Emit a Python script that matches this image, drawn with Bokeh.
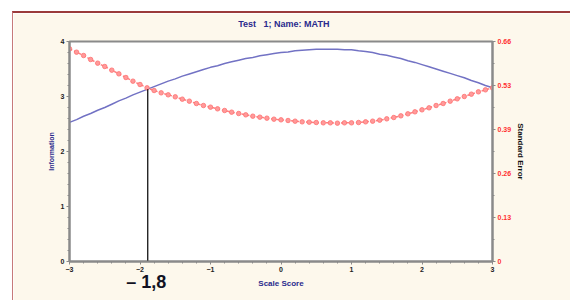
from bokeh.plotting import figure
from bokeh.models import Range1d, LinearAxis, FixedTicker
from bokeh.embed import file_html
from bokeh.resources import INLINE

# ---- data ----
theta = [round(-3.0 + 0.1 * i, 1) for i in range(61)]
information = [2.53, 2.58, 2.64, 2.69, 2.75, 2.80, 2.86, 2.92, 2.97, 3.03,
               3.08, 3.13, 3.18, 3.23, 3.28, 3.32, 3.37, 3.41, 3.45, 3.49,
               3.53, 3.56, 3.60, 3.63, 3.66, 3.69, 3.71, 3.74, 3.76, 3.78,
               3.80, 3.81, 3.83, 3.84, 3.85, 3.86, 3.86, 3.86, 3.86, 3.85,
               3.85, 3.83, 3.82, 3.80, 3.77, 3.75, 3.72, 3.69, 3.65, 3.62,
               3.58, 3.54, 3.50, 3.46, 3.42, 3.38, 3.34, 3.29, 3.25, 3.20,
               3.16]
std_error = [0.638, 0.628, 0.618, 0.606, 0.595, 0.585, 0.574, 0.563, 0.552, 0.541,
             0.531, 0.521, 0.513, 0.506, 0.500, 0.494, 0.487, 0.481, 0.474, 0.468,
             0.463, 0.458, 0.453, 0.448, 0.444, 0.440, 0.436, 0.433, 0.430, 0.427,
             0.425, 0.423, 0.421, 0.419, 0.418, 0.417, 0.416, 0.416, 0.415, 0.416,
             0.416, 0.417, 0.419, 0.421, 0.424, 0.428, 0.432, 0.437, 0.443, 0.449,
             0.455, 0.461, 0.468, 0.474, 0.481, 0.488, 0.495, 0.502, 0.509, 0.515,
             0.521]
x_ticks = [-3, -2, -1, 0, 1, 2, 3]
info_ticks = [0, 1, 2, 3, 4]
se_ticks = [0, 0.132, 0.264, 0.396, 0.528, 0.66]
se_tick_labels = ["0", "0.13", "0.26", "0.39", "0.53", "0.66"]
cut_x = -1.89
cut_top = 3.13
cut_label_x = -1.91
cut_label = "\u2013 1,8"
title_x = 0.04
title_text = "Test\u00a0\u00a0 1; Name: MATH"

FONT = "Liberation Sans"
NAVY = "#2a2a8c"
CREAM = "#fdf8ec"
GRAY = "#8a8a8a"

p = figure(frame_width=423, frame_height=220, output_backend="svg",
           toolbar_location=None,
           x_range=Range1d(-3, 3), y_range=Range1d(0, 4),
           min_border_left=56, min_border_right=78, min_border_top=28,
           min_border_bottom=39, border_fill_color=CREAM,
           background_fill_color="white", outline_line_color=GRAY,
           outline_line_width=2)
p.styles = {"margin-left": "12px", "margin-top": "11px",
            "border-top": "2px solid #9b3b3b", "border-left": "1px solid #c77a7a"}

p.grid.visible = False

p.extra_y_ranges = {"se": Range1d(0, 0.66)}

xa = p.xaxis[0]
xa.ticker = FixedTicker(ticks=x_ticks, minor_ticks=[-3 + 0.2 * i for i in range(31)])
xa.axis_label = "Scale Score"
ya = p.yaxis[0]
ya.ticker = FixedTicker(ticks=info_ticks, minor_ticks=[0.2 * i for i in range(21)])
ya.axis_label = "Information"

ra = LinearAxis(y_range_name="se", ticker=FixedTicker(ticks=se_ticks,
                minor_ticks=[0.066 * i for i in range(11)]),
                axis_label="Standard Error")
ra.major_label_overrides = {t: l for t, l in zip(se_ticks, se_tick_labels)}
p.add_layout(ra, "right")

for ax in [xa, ya, ra]:
    ax.axis_line_color = GRAY
    ax.axis_line_width = 2
    ax.major_tick_line_color = GRAY
    ax.minor_tick_line_color = GRAY
    ax.major_tick_out = 3
    ax.major_tick_in = 0
    ax.minor_tick_out = 2
    ax.minor_tick_in = 0
    ax.major_label_text_font = FONT
    ax.major_label_text_font_size = "7px"
    ax.major_label_text_font_style = "bold"
    ax.major_label_text_color = "#222222"
    ax.axis_label_text_font = FONT
    ax.axis_label_text_font_style = "bold"
    ax.axis_label_text_font_size = "8px"
    ax.major_label_standoff = 2

xa.axis_label_text_color = NAVY
xa.axis_label_standoff = 4
ya.axis_label_text_color = NAVY
ya.axis_label_text_font_size = "7px"
ya.axis_label_standoff = 3
ra.major_label_text_color = "#ff3030"
ra.axis_label_text_color = "#111111"
ra.axis_label_standoff = 2


def text_axis(pos, txt, size, color, standoff):
    a = LinearAxis(ticker=FixedTicker(ticks=[pos]),
                   major_label_overrides={pos: txt})
    a.axis_line_color = None
    a.major_tick_line_color = None
    a.minor_tick_line_color = None
    a.major_tick_out = 0
    a.minor_tick_out = 0
    a.major_label_text_font = FONT
    a.major_label_text_font_size = size
    a.major_label_text_font_style = "bold"
    a.major_label_text_color = color
    a.major_label_standoff = standoff
    return a


# title line above the frame
p.add_layout(text_axis(title_x, title_text, "9px", NAVY, 13), "above")
# cut-score text under the x axis
p.add_layout(text_axis(cut_label_x, cut_label, "18px", "#111122", -19), "below")

p.line(theta, information, line_color="#7272c4", line_width=1.5)
p.line(theta, std_error, y_range_name="se", line_color="#ff8080",
       line_width=1.5, line_dash="3 2")
p.scatter(theta, std_error, y_range_name="se", size=4.5, marker="circle",
          fill_color="#ff9a9a", line_color="#ff7070", line_width=0.8)

p.segment(x0=[cut_x], y0=[0], x1=[cut_x], y1=[cut_top], line_color="black",
          line_width=1.2)

open("out.html", "w").write(file_html(p, INLINE))
